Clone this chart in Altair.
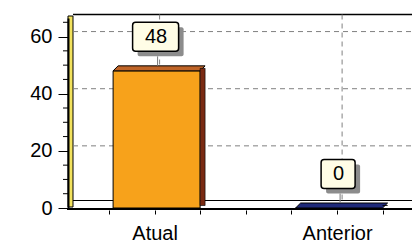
import altair as alt
import pandas as pd

# ---- data ----
categories = ["Atual", "Anterior"]
values = [48, 0]
y_ticks = [0, 20, 40, 60]
y_minor = [5, 10, 15, 25, 30, 35, 45, 50, 55, 65]
x_ticks = [-0.25, 0, 0.25, 0.5, 0.75, 1, 1.25]
grid_y = [20, 40, 60]

# ---- styles ----
front_colors = ["#F7A21B", "#1F2A7A"]
top_colors = ["#BF6427", "#1F2A7A"]
side_colors = ["#7A2A12", "#141C55"]
FONT = "Liberation Sans"

W, H = 342, 190
xs = alt.Scale(domain=[-82 / 188, 260 / 188], nice=False, zero=False)
ys = alt.Scale(domain=[0, 66.5], nice=False, zero=False)

df = pd.DataFrame({"cat": categories, "value": values, "idx": list(range(len(categories)))})
df["zero"] = 0
df["label"] = df["value"].astype(str)

label_expr = "".join(f"datum.value === {i} ? '{c}' : " for i, c in enumerate(categories)) + "''"

XA = alt.Axis(values=x_ticks, labelExpr=label_expr, domain=False, ticks=True, tickSize=4,
              tickColor="black", offset=2, grid=False, labelFont=FONT, labelFontSize=20,
              labelColor="black", labelPadding=9, labelFlush=False, labelOverlap=False,
              labelBound=False, title=None)
YA = alt.Axis(values=y_ticks, domain=True, domainColor="black", domainWidth=2, tickSize=10,
              tickColor="black", offset=2, grid=False, labelFont=FONT, labelFontSize=20,
              labelColor="black", labelPadding=6, zindex=1, title=None)

one = pd.DataFrame({"a": [0]})
base = alt.Chart(df)
X = alt.X("idx:Q", scale=xs, axis=XA, title=None)
Y = alt.Y("value:Q", scale=ys, axis=YA, title=None)

top_border = alt.Chart(one).mark_rule(color="black", strokeWidth=1.5).encode(
    x=alt.value(3), x2=alt.value(W), y=alt.value(-3.5))
back_floor = alt.Chart(one).mark_rule(color="black", strokeWidth=1).encode(
    x=alt.value(3), x2=alt.value(W), y=alt.value(182.5))
front_floor = alt.Chart(one).mark_rule(color="black", strokeWidth=2.2).encode(
    x=alt.value(-3), x2=alt.value(W), y=alt.value(191))
wall = alt.Chart(one).mark_rect(fill="#F2E25E", stroke="black", strokeWidth=1).encode(
    x=alt.value(-2), x2=alt.value(3), y=alt.value(-2), y2=alt.value(189))

hgrid = alt.Chart(pd.DataFrame({"g": grid_y})).mark_rule(
    color="#808080", strokeDash=[5, 4], yOffset=-5).encode(
    y=alt.Y("g:Q", scale=ys, axis=YA, title=None), x=alt.value(3), x2=alt.value(W))
vgrid = base.mark_rule(color="#808080", strokeDash=[5, 4], xOffset=5).encode(
    x=X, y=alt.value(-3.5), y2=alt.value(182.5))
minor = alt.Chart(pd.DataFrame({"t": y_minor})).mark_rule(color="black", strokeWidth=1).encode(
    y=alt.Y("t:Q", scale=ys, axis=YA, title=None), x=alt.value(-7), x2=alt.value(-2))

front = base.mark_bar(width=87, xOffset=2, stroke="black", strokeWidth=1).encode(
    x=X, y=Y, y2="zero:Q",
    color=alt.Color("cat:N", scale=alt.Scale(domain=categories, range=front_colors), legend=None),
)

para = "M -0.891 -0.0543 L 1 -0.0543 L 0.891 0.0543 L -1 0.0543 Z"
top_face = base.mark_point(shape=para, size=8464, filled=True, opacity=1, stroke="black",
                           strokeWidth=1, xOffset=4.5, yOffset=-2.5).encode(
    x=X, y=Y,
    color=alt.Color("cat:N", scale=alt.Scale(domain=categories, range=top_colors), legend=None))
side_face = base.mark_bar(width=5, xOffset=48, yOffset=-2.5, y2Offset=-2.5,
                          stroke="black", strokeWidth=0.6).encode(
    x=X, y=Y, y2="zero:Q",
    color=alt.Color("cat:N", scale=alt.Scale(domain=categories, range=side_colors), legend=None))

connector = base.mark_rule(color="#777777", xOffset=3, yOffset=-14.5, y2Offset=-5).encode(
    x=X, y=Y, y2="value:Q")
boxes = base.transform_calculate(bw="12*length(toString(datum.value)) + 22")
shadow = boxes.mark_bar(color="#8C8C8C", cornerRadius=2, xOffset=6, yOffset=-43.5,
                        y2Offset=-14.5).encode(
    x=X, y=Y, y2="value:Q", size=alt.Size("bw:Q", scale=None, legend=None))
box = boxes.mark_bar(fill="#FFFDE6", stroke="black", strokeWidth=1.5, cornerRadius=3,
                     xOffset=1, yOffset=-48.5, y2Offset=-19.5).encode(
    x=X, y=Y, y2="value:Q", size=alt.Size("bw:Q", scale=None, legend=None))
text = base.mark_text(font=FONT, fontSize=20, baseline="middle", color="black",
                      xOffset=1.5, yOffset=-34).encode(x=X, y=Y, text="label:N")

chart = alt.layer(
    wall, top_border, back_floor, hgrid, vgrid, minor, front_floor,
    front, top_face, side_face, connector, shadow, box, text,
).resolve_scale(color="independent").properties(
    width=W, height=H,
    autosize=alt.AutoSizeParams(type="none"),
    padding={"left": 62, "top": 10, "right": 0, "bottom": 34},
    background="white",
).configure_view(stroke=None)

chart.save("out.html", embed_options={"renderer": "svg", "actions": False})
